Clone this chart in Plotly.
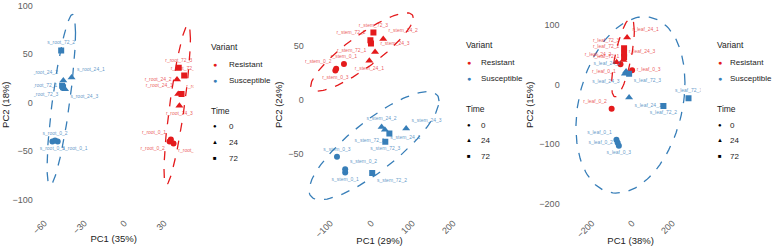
import numpy as np
import plotly.graph_objects as go

# ---------------- data ----------------
root_names = ["s_root_0_1", "s_root_0_2", "s_root_0_3", "s_root_24_1", "s_root_24_2", "s_root_24_3",
              "s_root_72_1", "s_root_72_2", "s_root_72_3",
              "r_root_0_1", "r_root_0_2", "r_root_0_3", "r_root_24_1", "r_root_24_2", "r_root_24_3",
              "r_root_72_1", "r_root_72_2", "r_root_72_3"]
root_pc1 = [-50, -52, -54, -39.6, -45.8, -44.5, -46.7, -47.4, -46,
            35, 34, 37, 40.5, 39.6, 41.4, 43, 45, 40.9]
root_pc2 = [-40, -39, -40, 26, 23, 14, 17.5, 54, 16,
            -38, -40, -42, 9, 24, -3, 9, 28, 36]
root_textpos = ["bottom right", "top center", "bottom center", "top right", "top left", "bottom right",
                "middle left", "top center", "bottom left",
                "top left", "bottom left", "bottom right", "top left", "middle left", "bottom center",
                "top right", "top center", "top center"]

stem_names = ["s_stem_0_1", "s_stem_0_2", "s_stem_0_3", "s_stem_24_1", "s_stem_24_2", "s_stem_24_3",
              "s_stem_72_1", "s_stem_72_2", "s_stem_72_3",
              "r_stem_0_1", "r_stem_0_2", "r_stem_0_3", "r_stem_24_1", "r_stem_24_2", "r_stem_24_3",
              "r_stem_72_1", "r_stem_72_2", "r_stem_72_3"]
stem_pc1 = [-64, -64, -84, 33, 25, 85, 44, 2, 34,
            -67, -86, -88, -5, 29, 9, -1, -2.4, 5]
stem_pc2 = [-67, -64, -52.5, -27.5, -25, -26.5, -31, -67.5, -38.6,
            33, 28.6, 27, 36, 56, 44, 52, 55, 62]
stem_textpos = ["bottom center", "top right", "top center", "bottom right", "top center", "top right",
                "bottom left", "bottom right", "bottom center",
                "top center", "top left", "bottom center", "bottom center", "top right", "top right",
                "bottom left", "top left", "top center"]

leaf_names = ["s_leaf_0_1", "s_leaf_0_2", "s_leaf_0_3", "s_leaf_24_1", "s_leaf_24_2", "s_leaf_24_3",
              "s_leaf_72_1", "s_leaf_72_2", "s_leaf_72_3",
              "r_leaf_0_1", "r_leaf_0_2", "r_leaf_0_3", "r_leaf_24_1", "r_leaf_24_2", "r_leaf_24_3",
              "r_leaf_72_1", "r_leaf_72_2", "r_leaf_72_3"]
leaf_pc1 = [-78, -72, -66, -15, -30, -36, 281, 156, -15,
            -58, -102, 0, -25, -77, -43, -40, -40, -40]
leaf_pc2 = [-93, -98, -103, -22, 22, 18, -23, -36, 18,
            34, -41, 24, 79, 37.5, 41, 46, 52, 61]
leaf_textpos = ["top left", "middle left", "bottom center", "bottom right", "top left", "bottom left",
                "top center", "bottom center", "bottom right",
                "bottom left", "top left", "middle right", "top right", "top left", "top right",
                "middle left", "top left", "top left"]

variants = ["Resistant", "Susceptible"]
times = ["0", "24", "72"]
pc_titles = [("PC1 (35%)", "PC2 (18%)"), ("PC1 (29%)", "PC2 (24%)"), ("PC1 (38%)", "PC2 (15%)")]

# ---------------- styles ----------------
W, H = 775, 246
COL = {"Resistant": "#E41A1C", "Susceptible": "#377EB8"}
LAB = {"Resistant": "rgba(228,26,28,0.75)", "Susceptible": "rgba(55,126,184,0.8)"}
SYM = {"0": "circle", "24": "triangle-up", "72": "square"}
GLYPH = {"0": "●", "24": "▲", "72": "■"}
FONT = "Liberation Sans, Arial, sans-serif"


def px_x(p):
    return p / W


def px_y(p):
    return 1 - p / H


panels = [
    dict(names=root_names, x=root_pc1, y=root_pc2, tp=root_textpos,
         dom=(31, 192), xr=[-68, 52], yr=[-110, 106],
         xt=[-60, -30, 0, 30], yt=[-100, -50, 0, 50, 100]),
    dict(names=stem_names, x=stem_pc1, y=stem_pc2, tp=stem_textpos,
         dom=(304, 455), xr=[-163, 203], yr=[-101, 92],
         xt=[-100, 0, 100, 200], yt=[-50, 0, 50]),
    dict(names=leaf_names, x=leaf_pc1, y=leaf_pc2, tp=leaf_textpos,
         dom=(562, 703), xr=[-356, 341], yr=[-210, 142],
         xt=[-200, 0, 200], yt=[-200, -100, 0, 100]),
]

PLOT_TOP, PLOT_BOT = 0, 212


def f_quantile_2(p, d2):
    # closed-form quantile of F(2, d2)
    return (d2 / 2.0) * ((1 - p) ** (-2.0 / d2) - 1)


def cov_trob(X, nu=5, maxit=25, tol=0.01):
    # multivariate t robust covariance (as MASS::cov.trob)
    n, p = X.shape
    wt = np.ones(n)
    loc = X.mean(axis=0)
    w = np.sqrt(wt)
    Xc = X - loc
    for _ in range(maxit):
        w0 = w
        Xc = X - loc
        A = np.sqrt(w / w.sum())[:, None] * Xc
        _, d, Vt = np.linalg.svd(A, full_matrices=False)
        wX = Xc @ Vt.T @ np.diag(1 / d)
        Q = (wX ** 2).sum(axis=1)
        w = wt * (nu + p) / (nu + Q)
        loc = (w[:, None] * X).sum(axis=0) / w.sum()
        if np.all(np.abs(w - w0) < tol):
            break
    S = np.sqrt(w)[:, None] * Xc
    cov = S.T @ S / wt.sum()
    return loc, cov


def ellipse(x, y, level=0.95, n=120):
    X = np.column_stack([np.asarray(x, float), np.asarray(y, float)])
    center, cov = cov_trob(X)
    L = np.linalg.cholesky(cov)
    r = np.sqrt(2 * f_quantile_2(level, len(X) - 1))
    t = np.linspace(0, 2 * np.pi, n)
    circ = np.vstack([np.cos(t), np.sin(t)])
    pts = L @ circ * r
    return center[0] + pts[0], center[1] + pts[1]


fig = go.Figure()
layout = dict(width=W, height=H, margin=dict(l=0, r=0, t=0, b=0),
              paper_bgcolor="white", plot_bgcolor="white", showlegend=False,
              font=dict(family=FONT))
annotations = []

for i, pnl in enumerate(panels):
    k = "" if i == 0 else str(i + 1)
    xa, ya = "x" + k, "y" + k
    names = pnl["names"]
    xs, ys, tps = pnl["x"], pnl["y"], pnl["tp"]
    var_of = ["Resistant" if nm.startswith("r_") else "Susceptible" for nm in names]
    time_of = [nm.split("_")[2] for nm in names]

    # ellipses
    for v in variants:
        idx = [j for j in range(len(names)) if var_of[j] == v]
        ex, ey = ellipse([xs[j] for j in idx], [ys[j] for j in idx])
        fig.add_trace(go.Scatter(x=ex, y=ey, mode="lines", xaxis=xa, yaxis=ya,
                                 line=dict(color=COL[v], width=1.3, dash="dash"),
                                 hoverinfo="skip"))
    # points
    for v in variants:
        for t in times:
            idx = [j for j in range(len(names)) if var_of[j] == v and time_of[j] == t]
            fig.add_trace(go.Scatter(
                x=[xs[j] for j in idx], y=[ys[j] for j in idx],
                text=[names[j] for j in idx], textposition=[tps[j] for j in idx],
                mode="markers+text", xaxis=xa, yaxis=ya,
                marker=dict(color=COL[v], symbol=SYM[t], size=6 if t != "24" else 7, line=dict(width=0)),
                textfont=dict(size=5, color=LAB[v]), name=f"{v} {t}"))

    x0, x1 = pnl["dom"]
    axis_common = dict(showgrid=False, zeroline=False, showline=False,
                       tickfont=dict(size=9, color="#606060"))
    layout["xaxis" + k] = dict(domain=[px_x(x0), px_x(x1)], range=pnl["xr"], anchor=ya,
                               tickvals=pnl["xt"], tickangle=-45,
                               ticks="outside", ticklen=4, tickcolor="rgba(0,0,0,0)",
                               title=dict(text=pc_titles[i][0], font=dict(size=9.5, color="#222"), standoff=0),
                               **axis_common)
    layout["yaxis" + k] = dict(domain=[px_y(PLOT_BOT), px_y(PLOT_TOP)], range=pnl["yr"], anchor=xa,
                               tickvals=pnl["yt"], ticks="",
                               title=dict(text=pc_titles[i][1], font=dict(size=9.5, color="#222"), standoff=4),
                               **axis_common)

# ---------------- legends (text-based) ----------------
legend_pos = [
    dict(tx=208, gx=214, lx=227, ys=[48, 65, 81, 112, 128, 144, 160]),
    dict(tx=465, gx=470, lx=481, ys=[46, 63, 79, 110, 127, 142, 158]),
    dict(tx=718, gx=723, lx=732, ys=[46, 63, 79, 110, 127, 142, 158]),
]
for lp in legend_pos:
    ys = lp["ys"]
    annotations.append(dict(text="Variant", x=px_x(lp["tx"]), y=px_y(ys[0]), xref="paper", yref="paper",
                            xanchor="left", yanchor="middle", showarrow=False,
                            font=dict(size=8.5, color="#222")))
    for v, yy in zip(variants, ys[1:3]):
        annotations.append(dict(text="●", x=px_x(lp["gx"]), y=px_y(yy), xref="paper", yref="paper",
                                xanchor="center", yanchor="middle", showarrow=False, borderpad=0,
                                font=dict(size=7, color=COL[v])))
        annotations.append(dict(text=v, x=px_x(lp["lx"]), y=px_y(yy), xref="paper", yref="paper",
                                xanchor="left", yanchor="middle", showarrow=False, borderpad=0,
                                font=dict(size=8, color="#222")))
    annotations.append(dict(text="Time", x=px_x(lp["tx"]), y=px_y(ys[3]), xref="paper", yref="paper",
                            xanchor="left", yanchor="middle", showarrow=False,
                            font=dict(size=8.5, color="#222")))
    for t, yy in zip(times, ys[4:7]):
        annotations.append(dict(text=GLYPH[t], x=px_x(lp["gx"]), y=px_y(yy), xref="paper", yref="paper",
                                xanchor="center", yanchor="middle", showarrow=False, borderpad=0,
                                font=dict(size=6, color="black")))
        annotations.append(dict(text=t, x=px_x(lp["lx"]), y=px_y(yy), xref="paper", yref="paper",
                                xanchor="left", yanchor="middle", showarrow=False, borderpad=0,
                                font=dict(size=8, color="#222")))

layout["annotations"] = annotations
fig.update_layout(**layout)
fig.write_html("out.html")
